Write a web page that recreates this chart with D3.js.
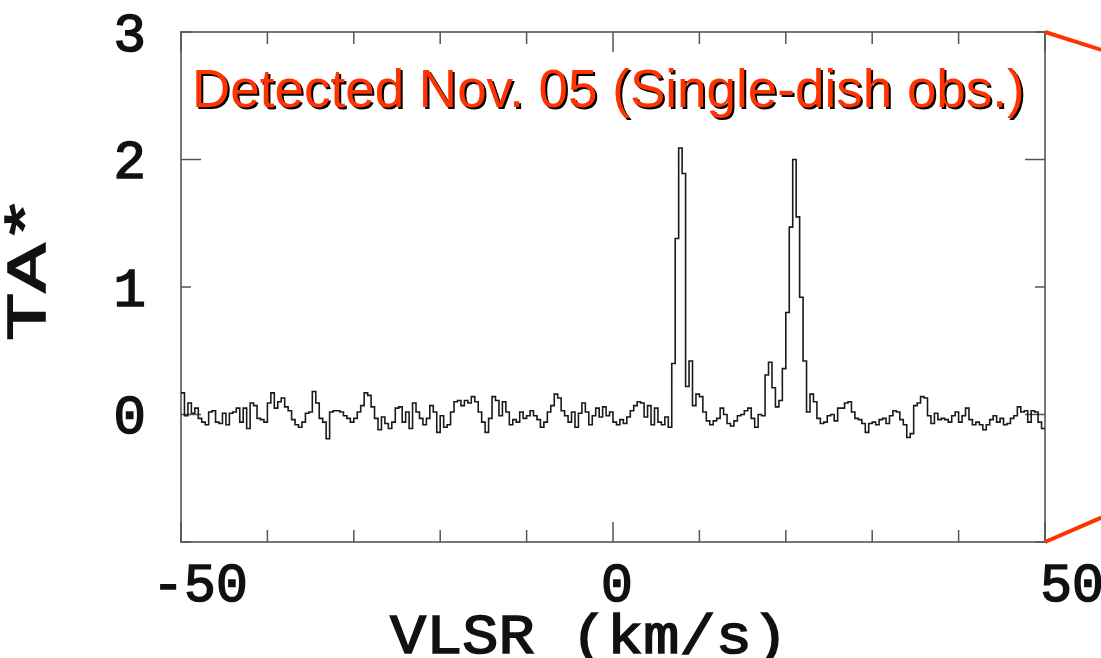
<!DOCTYPE html>
<html>
<head>
<meta charset="utf-8">
<script src="https://cdn.jsdelivr.net/npm/d3@7"></script>
<style>
  body { margin: 0; background: #fff; }
  svg { display: block; }
  .mono { font-family: "Liberation Mono", "Courier New", monospace; font-weight: normal; fill: #111; stroke: #111; stroke-width: 1.6px; }
</style>
</head>
<body>
<div id="spectrum"></div>
<script>
// spectrum channels: first channel edge and channel width (km/s)
const vStart = -50;
const dv = 0.4;

// antenna temperature TA* per channel
const ta = [
  0.17, -0.01, 0.09, 0.01, 0.05, -0.03, -0.06, -0.08, 0.02, 0.03,
  -0.06, -0.07, 0.01, -0.08, 0.01, 0.02, 0.05, -0.06, 0.05, -0.11,
  0.09, 0.07, -0.03, -0.04, -0.06, 0.09, 0.17, 0.05, 0.10, 0.13,
  0.06, 0.03, -0.04, -0.08, -0.10, -0.06, 0.01, 0.02, 0.18, 0.09,
  -0.03, -0.06, -0.19, 0.02, 0.03, 0.03, 0.02, -0.01, -0.03, -0.06,
  -0.03, 0.02, 0.07, 0.17, 0.15, 0.06, -0.03, -0.12, -0.02, -0.07,
  -0.11, -0.06, 0.05, 0.06,
  -0.06, 0.02, -0.11, 0.09, 0.02, -0.03, -0.08, -0.03, 0.07, 0.02,
  -0.14, -0.01, -0.10, -0.08, 0.02, 0.10, 0.11, 0.07, 0.11, 0.09,
  0.14, 0.10, 0.02, -0.06, -0.14, -0.03, 0.14, 0.11, -0.01, 0.10,
  0.02, -0.08, -0.04, -0.06, 0.02, -0.03, -0.01, 0.03, -0.01, -0.04,
  -0.10, -0.06, 0.02, 0.07, 0.16, 0.13, 0.03, -0.01, -0.06, 0.02,
  -0.10, 0.01, 0.09, 0.02, -0.08, -0.01, 0.05, -0.02, 0.06, -0.01,
  0.02, -0.06,
  -0.08, -0.04, -0.07, -0.02, 0.03, 0.07, 0.10, 0.09, -0.02, 0.07,
  -0.08, 0.05, -0.06, -0.08, -0.02, -0.10,
  0.40, 1.38, 2.09, 1.89, 0.22, 0.42, 0.07, 0.16, 0.14, 0.02, -0.05,
  -0.08, -0.05, -0.03, 0.05, 0.00, -0.07, -0.09, -0.05, -0.01, 0.00,
  0.03, 0.05, -0.03, -0.10, 0.00, -0.01,
  0.31, 0.41, 0.21, 0.06, 0.11, 0.36, 0.80, 1.47, 2.00, 1.55, 0.92, 0.42,
  0.02, 0.16, 0.10, -0.03, -0.07, -0.06, -0.01, 0.00, -0.05, 0.05,
  0.05, 0.09, 0.10, 0.02, -0.03, -0.04, -0.07, -0.14, -0.07, -0.06,
  -0.08, -0.04, -0.03, -0.07, -0.01, 0.03, 0.02, -0.04, -0.08, -0.18,
  -0.15, 0.07, 0.09, 0.14, 0.13, -0.01, -0.07, 0.01, -0.04, -0.03,
  -0.04, -0.06, -0.01, 0.02, -0.06, -0.01, 0.05, -0.04, -0.08, -0.06,
  -0.08, -0.12, -0.08, -0.04, -0.01, -0.06, -0.03, -0.08, -0.07, -0.03,
  -0.01, 0.06, 0.02, 0.03, -0.06, 0.03, 0.02, -0.06, -0.11
];

// axes
const xDomain = [-50, 50];
const yDomain = [-1, 3];
const xTicks = [-50, -40, -30, -20, -10, 0, 10, 20, 30, 40, 50];
const xMajor = [-50, 0, 50];
const xLabels = ["-50", "0", "50"];
const yTicks = [-1, 0, 1, 2, 3];
const yMajor = [0, 2];
const yLabels = ["0", "1", "2", "3"];

const xTitle = "VLSR (km/s)";
const yTitle = "TA*";
const title = "Detected Nov. 05 (Single-dish obs.)";

function spectrumChart(selector) {
    const width = 1101;
    const height = 658;
    const frame = { left: 181, right: 1045, top: 32, bottom: 542 };

    const x = d3.scaleLinear().domain(xDomain).range([frame.left, frame.right]);
    const y = d3.scaleLinear().domain(yDomain).range([frame.bottom, frame.top]);

    const svg = d3.select(selector)
        .append('svg')
        .attr('width', width)
        .attr('height', height);

    // frame box
    svg.append('rect')
        .attr('x', x(xDomain[0]))
        .attr('y', y(yDomain[1]))
        .attr('width', x(xDomain[1]) - x(xDomain[0]))
        .attr('height', y(yDomain[0]) - y(yDomain[1]))
        .attr('fill', 'none')
        .attr('stroke', '#777')
        .attr('stroke-width', 2);

    // inward ticks on all four sides, majors a bit longer
    const xLen = v => xMajor.includes(v) ? 20 : 12;
    const yLen = v => yMajor.includes(v) ? 20 : 10;
    const ticks = svg.append('g').attr('stroke', '#555').attr('stroke-width', 1.5);
    ticks.selectAll('.xb').data(xTicks).enter().append('line')
        .attr('x1', d => x(d)).attr('x2', d => x(d))
        .attr('y1', y(yDomain[0])).attr('y2', d => y(yDomain[0]) - xLen(d));
    ticks.selectAll('.xt').data(xTicks).enter().append('line')
        .attr('x1', d => x(d)).attr('x2', d => x(d))
        .attr('y1', y(yDomain[1])).attr('y2', d => y(yDomain[1]) + xLen(d));
    ticks.selectAll('.yl').data(yTicks).enter().append('line')
        .attr('y1', d => y(d)).attr('y2', d => y(d))
        .attr('x1', x(xDomain[0])).attr('x2', d => x(xDomain[0]) + yLen(d));
    ticks.selectAll('.yr').data(yTicks).enter().append('line')
        .attr('y1', d => y(d)).attr('y2', d => y(d))
        .attr('x1', x(xDomain[1])).attr('x2', d => x(xDomain[1]) - yLen(d));

    // tick labels (the original sits them a little right of the ticks)
    const xShift = { "-50": 19, "0": 4, "50": 27 };
    svg.selectAll('.xlab').data(xLabels).enter().append('text')
        .attr('class', 'mono')
        .attr('x', d => x(+d) + xShift[d])
        .attr('y', y(yDomain[0]) + 59)
        .attr('text-anchor', 'middle')
        .style('font-size', '53px')
        .text(d => d);

    svg.selectAll('.ylab').data(yLabels).enter().append('text')
        .attr('class', 'mono')
        .attr('x', x(xDomain[0]) - 35)
        .attr('y', d => y(+d))
        .attr('dy', '0.35em')
        .attr('text-anchor', 'end')
        .style('font-size', '54px')
        .text(d => d);

    // axis titles
    svg.append('text')
        .attr('class', 'mono')
        .attr('x', 589)
        .attr('y', 653)
        .attr('text-anchor', 'middle')
        .attr('textLength', 398)
        .attr('lengthAdjust', 'spacingAndGlyphs')
        .style('font-size', '56px')
        .text(xTitle);

    svg.append('text')
        .attr('class', 'mono')
        .attr('transform', 'translate(45,268) rotate(-90)')
        .attr('text-anchor', 'middle')
        .attr('textLength', 146)
        .attr('lengthAdjust', 'spacingAndGlyphs')
        .style('font-size', '55px')
        .text(yTitle);

    // histogram-style spectrum
    const pts = ta.map((t, i) => [vStart + i * dv, t]);
    pts.push([vStart + ta.length * dv, ta[ta.length - 1]]);
    const line = d3.line()
        .x(d => x(d[0]))
        .y(d => y(d[1]))
        .curve(d3.curveStepAfter);
    svg.append('path')
        .datum(pts)
        .attr('d', line)
        .attr('fill', 'none')
        .attr('stroke', '#1a1a1a')
        .attr('stroke-width', 1.6);

    // title with a drop shadow
    const tg = svg.append('g')
        .style('font-family', '"Liberation Sans", Arial, sans-serif')
        .style('font-size', '53px');
    tg.append('text').attr('x', 194).attr('y', 109).attr('fill', '#000').text(title);
    tg.append('text').attr('x', 192).attr('y', 107).attr('fill', '#ff3300').text(title);

    // red zoom lines leaving the right edge
    const red = svg.append('g').attr('stroke', '#ff3300').attr('stroke-width', 4);
    red.append('line')
        .attr('x1', x(xDomain[1])).attr('y1', y(yDomain[1]))
        .attr('x2', x(xDomain[1]) + 60).attr('y2', y(yDomain[1]) + 19);
    red.append('line')
        .attr('x1', x(xDomain[1])).attr('y1', y(yDomain[0]))
        .attr('x2', x(xDomain[1]) + 60).attr('y2', y(yDomain[0]) - 26);
}

spectrumChart('#spectrum');
</script>
</body>
</html>
